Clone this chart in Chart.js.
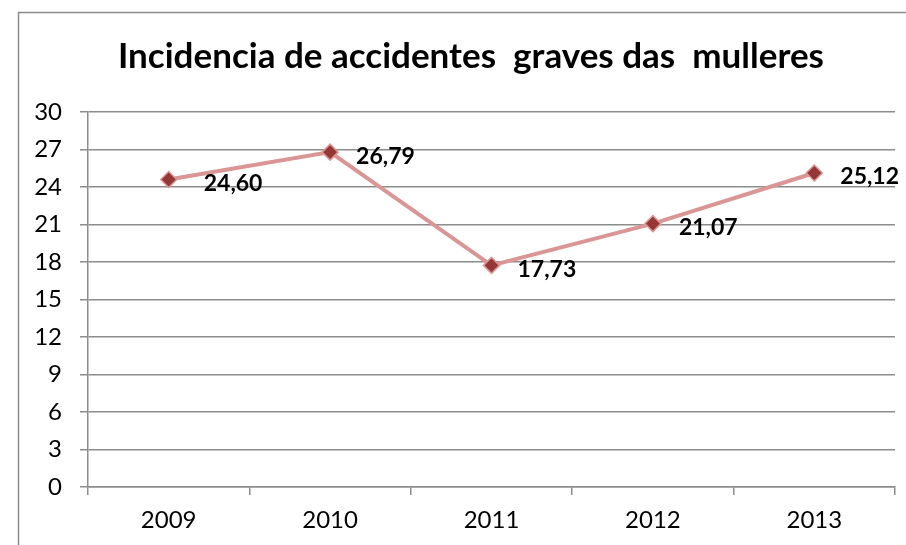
<!DOCTYPE html>
<html>
<head>
<meta charset="utf-8">
<script src="https://cdn.jsdelivr.net/npm/chart.js@4"></script>
<style>
  html, body { margin: 0; padding: 0; background: #fff; }
  #wrap { width: 906px; height: 545px; position: relative; }
</style>
</head>
<body>
<div id="wrap"><canvas id="chart"></canvas></div>
<script>
const anos = ['2009', '2010', '2011', '2012', '2013'];
const incidencia = [24.60, 26.79, 17.73, 21.07, 25.12];
const ticksY = [0, 3, 6, 9, 12, 15, 18, 21, 24, 27, 30];
const titulo = 'Incidencia de accidentes  graves das  mulleres';

const gris = '#8c8c8c';

// marco gris e título (centrado sobre o marco, non sobre o canvas)
const marco = {
    id: 'marco',
    beforeDraw(chart) {
        const ctx = chart.ctx;
        ctx.save();
        ctx.strokeStyle = gris;
        ctx.lineWidth = 1.5;
        ctx.strokeRect(18.5, 12.5, 1000, 1000);
        ctx.font = 'bold 35px Lato';
        ctx.fillStyle = '#000';
        ctx.textAlign = 'center';
        ctx.textBaseline = 'middle';
        ctx.fillText(titulo, 471, 57);
        ctx.restore();
    }
};

// etiquetas de valor á dereita de cada punto
const etiquetas = {
    id: 'etiquetas',
    afterDatasetsDraw(chart) {
        const ctx = chart.ctx;
        const meta = chart.getDatasetMeta(0);
        ctx.save();
        ctx.font = 'bold 23px Lato';
        ctx.fillStyle = '#000';
        ctx.textBaseline = 'middle';
        ctx.textAlign = 'left';
        meta.data.forEach((p, i) => {
            const txt = incidencia[i].toFixed(2).replace('.', ',');
            const dx = i === 0 ? 35 : 26;
            ctx.fillText(txt, p.x + dx, p.y + 4);
        });
        ctx.restore();
    }
};

let ctx = document.getElementById('chart');

let grafica = new Chart(ctx, {
    type: 'line',
    data: {
        labels: anos,
        datasets: [{
            data: incidencia,
            borderColor: '#d99694',
            borderWidth: 4,
            tension: 0,
            pointStyle: 'rectRot',
            pointRadius: 8,
            pointHoverRadius: 8,
            pointBackgroundColor: '#953735',
            pointBorderColor: '#d99694',
            pointBorderWidth: 1.5,
        }]
    },
    options: {
        responsive: true,
        maintainAspectRatio: false,
        animation: false,
        layout: {
            padding: { left: 0, right: 11, top: 112, bottom: 0 }
        },
        scales: {
            x: {
                offset: true,
                grid: {
                    offset: true,
                    drawOnChartArea: false,
                    color: gris,
                    lineWidth: 1.5,
                    tickLength: 8,
                },
                border: { color: gris, width: 1.5 },
                ticks: {
                    color: '#000',
                    font: { family: 'Lato', size: 24 },
                    padding: 11,
                },
                afterFit(scale) { scale.height = 58; }
            },
            y: {
                min: 0,
                max: 30,
                afterBuildTicks(scale) {
                    scale.ticks = ticksY.map(v => ({ value: v }));
                },
                grid: {
                    color: gris,
                    lineWidth: 1.5,
                    tickLength: 8,
                },
                border: { color: gris, width: 1.5 },
                ticks: {
                    color: '#000',
                    font: { family: 'Lato', size: 24 },
                    padding: 18,
                },
                afterFit(scale) { scale.width = 88; }
            }
        },
        plugins: {
            legend: { display: false },
            tooltip: { enabled: false },
            title: { display: false }
        }
    },
    plugins: [marco, etiquetas]
});
</script>
</body>
</html>
